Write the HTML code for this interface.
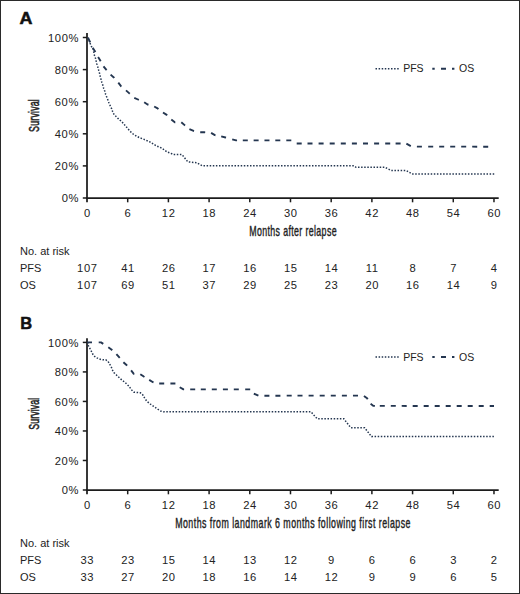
<!DOCTYPE html>
<html><head><meta charset="utf-8"><style>
html,body{margin:0;padding:0;background:#fff;}
svg{display:block;}
text{font-family:"Liberation Sans",sans-serif;fill:#222;}
.tk{font-size:11.2px;letter-spacing:0.6px;}
.lg{font-size:10.5px;}
.tb{font-size:11px;}
.tn{font-size:11.2px;letter-spacing:0.55px;}
.ti{font-size:14px;stroke:#222;stroke-width:0.4px;}
.sv{font-size:14px;stroke-width:0.55px;}
.pl{font-size:16px;font-weight:bold;fill:#111;stroke:#111;stroke-width:0.5px;}
</style></head><body>
<svg width="520" height="594" viewBox="0 0 520 594">
<rect x="0" y="0" width="520" height="594" fill="#fff"/>
<rect x="0.5" y="0.5" width="519" height="593" fill="none" stroke="#2a2a2a" stroke-width="1"/>
<line x1="87" y1="33" x2="87" y2="202.3" stroke="#1c1c1c" stroke-width="1.75"/>
<line x1="86" y1="198" x2="498.7" y2="198" stroke="#1c1c1c" stroke-width="1.75"/>
<line x1="82.8" y1="198.00" x2="87" y2="198.00" stroke="#1c1c1c" stroke-width="1.5"/>
<text x="79.00" y="202.20" class="tk" text-anchor="end">0%</text>
<line x1="82.8" y1="165.90" x2="87" y2="165.90" stroke="#1c1c1c" stroke-width="1.5"/>
<text x="79.00" y="170.10" class="tk" text-anchor="end">20%</text>
<line x1="82.8" y1="133.80" x2="87" y2="133.80" stroke="#1c1c1c" stroke-width="1.5"/>
<text x="79.00" y="138.00" class="tk" text-anchor="end">40%</text>
<line x1="82.8" y1="101.70" x2="87" y2="101.70" stroke="#1c1c1c" stroke-width="1.5"/>
<text x="79.00" y="105.90" class="tk" text-anchor="end">60%</text>
<line x1="82.8" y1="69.60" x2="87" y2="69.60" stroke="#1c1c1c" stroke-width="1.5"/>
<text x="79.00" y="73.80" class="tk" text-anchor="end">80%</text>
<line x1="82.8" y1="37.50" x2="87" y2="37.50" stroke="#1c1c1c" stroke-width="1.5"/>
<text x="79.00" y="41.70" class="tk" text-anchor="end">100%</text>
<text x="87.30" y="217" class="tk" text-anchor="middle">0</text>
<line x1="127.70" y1="198" x2="127.70" y2="202.3" stroke="#1c1c1c" stroke-width="1.5"/>
<text x="128.00" y="217" class="tk" text-anchor="middle">6</text>
<line x1="168.40" y1="198" x2="168.40" y2="202.3" stroke="#1c1c1c" stroke-width="1.5"/>
<text x="168.70" y="217" class="tk" text-anchor="middle">12</text>
<line x1="209.09" y1="198" x2="209.09" y2="202.3" stroke="#1c1c1c" stroke-width="1.5"/>
<text x="209.39" y="217" class="tk" text-anchor="middle">18</text>
<line x1="249.79" y1="198" x2="249.79" y2="202.3" stroke="#1c1c1c" stroke-width="1.5"/>
<text x="250.09" y="217" class="tk" text-anchor="middle">24</text>
<line x1="290.49" y1="198" x2="290.49" y2="202.3" stroke="#1c1c1c" stroke-width="1.5"/>
<text x="290.79" y="217" class="tk" text-anchor="middle">30</text>
<line x1="331.19" y1="198" x2="331.19" y2="202.3" stroke="#1c1c1c" stroke-width="1.5"/>
<text x="331.49" y="217" class="tk" text-anchor="middle">36</text>
<line x1="371.89" y1="198" x2="371.89" y2="202.3" stroke="#1c1c1c" stroke-width="1.5"/>
<text x="372.19" y="217" class="tk" text-anchor="middle">42</text>
<line x1="412.58" y1="198" x2="412.58" y2="202.3" stroke="#1c1c1c" stroke-width="1.5"/>
<text x="412.88" y="217" class="tk" text-anchor="middle">48</text>
<line x1="453.28" y1="198" x2="453.28" y2="202.3" stroke="#1c1c1c" stroke-width="1.5"/>
<text x="453.58" y="217" class="tk" text-anchor="middle">54</text>
<line x1="493.98" y1="198" x2="493.98" y2="202.3" stroke="#1c1c1c" stroke-width="1.5"/>
<text x="494.28" y="217" class="tk" text-anchor="middle">60</text>
<path d="M88.13,37.79 L90.21,42.34 M92.70,47.80 L95.10,51.50 L95.39,52.02 M98.10,56.90 L100.10,60.20 L100.66,61.20 M103.50,66.30 L106.20,69.70 L106.64,70.19 M110.60,74.60 L114.10,77.70 L114.31,77.95 M118.30,82.70 L121.00,86.20 L121.44,86.57 M126.00,90.40 L129.10,93.10 L129.75,93.70 M134.27,97.83 L138.00,99.50 L138.84,99.87 M144.20,102.20 L147.60,104.50 L148.46,104.76 M154.20,106.50 L157.60,108.40 L158.48,109.07 M163.00,112.50 L166.70,114.90 L167.12,115.31 M171.30,119.40 L174.80,122.20 L175.32,122.20 M181.30,122.20 L184.60,125.10 L185.06,125.49 M189.40,129.20 L193.60,130.90 L194.06,130.99 M200.20,132.20 L204.30,132.30 L205.20,132.38 M211.10,132.90 L214.90,135.10 L215.50,135.22 M221.20,136.40 L225.50,137.50 L226.04,137.65 M232.20,139.30 L236.10,140.40 L237.05,140.40 M242.80,140.40 L247.80,140.40 M253.63,140.40 L258.63,140.40 M264.47,140.40 L269.47,140.40 M275.30,140.40 L280.30,140.40 M286.30,140.40 L291.30,140.40 M296.70,143.50 L301.70,143.50 M307.50,143.50 L312.50,143.50 M318.60,143.50 L323.60,143.50 M329.70,143.50 L334.70,143.50 M340.80,143.50 L345.80,143.50 M351.90,143.50 L356.90,143.50 M363.00,143.50 L368.00,143.50 M374.10,143.50 L379.10,143.50 M385.20,143.50 L390.20,143.50 M395.60,143.50 L400.60,143.50 M406.39,143.71 L410.80,146.06 M416.90,146.61 L421.90,146.61 M428.20,146.62 L433.20,146.63 M439.20,146.63 L444.20,146.64 M450.20,146.65 L455.20,146.65 M461.20,146.66 L466.20,146.67 M472.20,146.67 L477.20,146.68 M483.20,146.69 L488.20,146.69" fill="none" stroke="#243650" stroke-width="1.9" stroke-linejoin="round"/>
<path d="M88.00,37.50 L88.70,39.40 L90.00,43.10 L91.40,46.40 L93.10,48.50 L93.70,51.80 L94.40,55.20 L95.40,57.90 L96.10,60.90 L96.80,63.90 L97.80,67.00 L98.70,70.40 L99.50,73.10 L100.20,76.20 L101.00,79.20 L101.80,82.30 L102.90,85.40 L103.70,88.50 L104.80,91.20 L105.60,94.20 L106.80,97.30 L108.00,100.30 L109.00,103.00 L110.40,106.10 L111.70,108.80 L112.70,111.80 L114.10,114.50 L116.40,116.80 L118.50,118.90 L120.80,120.90 L123.20,123.20 L125.20,125.60 L127.20,127.90 L129.20,130.30 L131.60,132.70 L133.80,134.60 L139.10,137.50 L145.40,139.90 L150.70,142.30 L156.00,145.70 L161.70,148.10 L167.00,151.90 L171.90,153.80 L173.60,154.60 L182.00,154.60 L187.80,161.80 L196.90,162.80 L202.20,165.80 L354.00,165.80 L356.00,167.30 L385.00,167.30 L391.00,170.40 L406.20,170.50 L412.00,173.90 L495.50,173.90" fill="none" stroke="#243650" stroke-width="1.5" stroke-dasharray="1.5 1.6" stroke-dashoffset="0.26"/>
<line x1="375.5" y1="68.7" x2="399.7" y2="68.7" stroke="#243650" stroke-width="1.5" stroke-dasharray="1.5 1.6"/>
<text x="403.2" y="72.20" class="lg">PFS</text>
<line x1="432.3" y1="68.7" x2="454.4" y2="68.7" stroke="#243650" stroke-width="1.9" stroke-dasharray="2.4 6.3 5 6 2.4"/>
<text x="459" y="72.20" class="lg">OS</text>
<text transform="translate(249.20000000000002,236) scale(0.63,1)" x="0" y="0" class="ti" textLength="138.7" lengthAdjust="spacing">Months after relapse</text>
<text transform="translate(39.2,131.9) rotate(-90) scale(0.63,1)" x="0" y="0" class="ti sv" textLength="51.9" lengthAdjust="spacing">Survival</text>
<text transform="translate(19.6,24) scale(1.12,1)" x="0" y="0" class="pl">A</text>
<text x="20" y="254.5" class="tb">No. at risk</text>
<text x="20" y="271.7" class="tb">PFS</text>
<text x="20" y="289" class="tb">OS</text>
<text x="87.28" y="271.7" class="tn" text-anchor="middle">107</text>
<text x="127.97" y="271.7" class="tn" text-anchor="middle">41</text>
<text x="168.67" y="271.7" class="tn" text-anchor="middle">26</text>
<text x="209.37" y="271.7" class="tn" text-anchor="middle">17</text>
<text x="250.07" y="271.7" class="tn" text-anchor="middle">16</text>
<text x="290.76" y="271.7" class="tn" text-anchor="middle">15</text>
<text x="331.46" y="271.7" class="tn" text-anchor="middle">14</text>
<text x="372.16" y="271.7" class="tn" text-anchor="middle">11</text>
<text x="412.86" y="271.7" class="tn" text-anchor="middle">8</text>
<text x="453.56" y="271.7" class="tn" text-anchor="middle">7</text>
<text x="494.25" y="271.7" class="tn" text-anchor="middle">4</text>
<text x="87.28" y="289" class="tn" text-anchor="middle">107</text>
<text x="127.97" y="289" class="tn" text-anchor="middle">69</text>
<text x="168.67" y="289" class="tn" text-anchor="middle">51</text>
<text x="209.37" y="289" class="tn" text-anchor="middle">37</text>
<text x="250.07" y="289" class="tn" text-anchor="middle">29</text>
<text x="290.76" y="289" class="tn" text-anchor="middle">25</text>
<text x="331.46" y="289" class="tn" text-anchor="middle">23</text>
<text x="372.16" y="289" class="tn" text-anchor="middle">20</text>
<text x="412.86" y="289" class="tn" text-anchor="middle">16</text>
<text x="453.56" y="289" class="tn" text-anchor="middle">14</text>
<text x="494.25" y="289" class="tn" text-anchor="middle">9</text>
<line x1="87" y1="338.2" x2="87" y2="494.3" stroke="#1c1c1c" stroke-width="1.75"/>
<line x1="86" y1="490" x2="498.7" y2="490" stroke="#1c1c1c" stroke-width="1.75"/>
<line x1="82.8" y1="490.00" x2="87" y2="490.00" stroke="#1c1c1c" stroke-width="1.5"/>
<text x="79.00" y="494.20" class="tk" text-anchor="end">0%</text>
<line x1="82.8" y1="460.48" x2="87" y2="460.48" stroke="#1c1c1c" stroke-width="1.5"/>
<text x="79.00" y="464.68" class="tk" text-anchor="end">20%</text>
<line x1="82.8" y1="430.96" x2="87" y2="430.96" stroke="#1c1c1c" stroke-width="1.5"/>
<text x="79.00" y="435.16" class="tk" text-anchor="end">40%</text>
<line x1="82.8" y1="401.44" x2="87" y2="401.44" stroke="#1c1c1c" stroke-width="1.5"/>
<text x="79.00" y="405.64" class="tk" text-anchor="end">60%</text>
<line x1="82.8" y1="371.92" x2="87" y2="371.92" stroke="#1c1c1c" stroke-width="1.5"/>
<text x="79.00" y="376.12" class="tk" text-anchor="end">80%</text>
<line x1="82.8" y1="342.40" x2="87" y2="342.40" stroke="#1c1c1c" stroke-width="1.5"/>
<text x="79.00" y="346.60" class="tk" text-anchor="end">100%</text>
<text x="87.30" y="508.7" class="tk" text-anchor="middle">0</text>
<line x1="127.70" y1="490" x2="127.70" y2="494.3" stroke="#1c1c1c" stroke-width="1.5"/>
<text x="128.00" y="508.7" class="tk" text-anchor="middle">6</text>
<line x1="168.40" y1="490" x2="168.40" y2="494.3" stroke="#1c1c1c" stroke-width="1.5"/>
<text x="168.70" y="508.7" class="tk" text-anchor="middle">12</text>
<line x1="209.09" y1="490" x2="209.09" y2="494.3" stroke="#1c1c1c" stroke-width="1.5"/>
<text x="209.39" y="508.7" class="tk" text-anchor="middle">18</text>
<line x1="249.79" y1="490" x2="249.79" y2="494.3" stroke="#1c1c1c" stroke-width="1.5"/>
<text x="250.09" y="508.7" class="tk" text-anchor="middle">24</text>
<line x1="290.49" y1="490" x2="290.49" y2="494.3" stroke="#1c1c1c" stroke-width="1.5"/>
<text x="290.79" y="508.7" class="tk" text-anchor="middle">30</text>
<line x1="331.19" y1="490" x2="331.19" y2="494.3" stroke="#1c1c1c" stroke-width="1.5"/>
<text x="331.49" y="508.7" class="tk" text-anchor="middle">36</text>
<line x1="371.89" y1="490" x2="371.89" y2="494.3" stroke="#1c1c1c" stroke-width="1.5"/>
<text x="372.19" y="508.7" class="tk" text-anchor="middle">42</text>
<line x1="412.58" y1="490" x2="412.58" y2="494.3" stroke="#1c1c1c" stroke-width="1.5"/>
<text x="412.88" y="508.7" class="tk" text-anchor="middle">48</text>
<line x1="453.28" y1="490" x2="453.28" y2="494.3" stroke="#1c1c1c" stroke-width="1.5"/>
<text x="453.58" y="508.7" class="tk" text-anchor="middle">54</text>
<line x1="493.98" y1="490" x2="493.98" y2="494.3" stroke="#1c1c1c" stroke-width="1.5"/>
<text x="494.28" y="508.7" class="tk" text-anchor="middle">60</text>
<path d="M87.00,342.40 L92.00,342.40 M98.70,342.40 L101.00,342.40 L102.50,343.40 L103.25,343.89 M108.30,347.20 L111.40,349.50 L112.23,350.28 M116.40,354.20 L119.10,357.20 L119.73,357.93 M123.40,362.20 L126.80,365.30 L127.06,365.60 M131.10,370.30 L133.80,373.80 L134.38,373.85 M140.30,374.20 L143.80,376.50 L144.49,376.93 M149.20,379.90 L153.00,382.20 L153.51,382.42 M159.20,383.50 L164.20,383.50 M170.40,383.50 L175.40,383.50 M179.71,387.20 L183.50,389.40 L184.12,389.40 M190.20,389.40 L195.20,389.40 M200.80,389.40 L205.80,389.40 M211.80,389.40 L216.80,389.40 M222.90,389.40 L227.90,389.40 M233.80,389.40 L238.80,389.40 M245.20,389.40 L250.20,389.40 M253.83,393.64 L258.40,395.66 M264.40,395.69 L269.40,395.69 M275.40,395.68 L280.40,395.68 M286.70,395.67 L291.70,395.67 M297.50,395.66 L302.50,395.66 M308.60,395.65 L313.60,395.65 M319.69,395.64 L324.69,395.64 M330.78,395.63 L335.78,395.63 M341.88,395.62 L346.88,395.62 M352.97,395.61 L357.97,395.61 M363.95,395.94 L367.10,398.30 L367.67,399.19 M370.60,403.80 L373.50,405.90 L374.92,405.90 M379.80,405.91 L384.80,405.91 M390.80,405.91 L395.80,405.92 M401.70,405.92 L406.70,405.93 M412.70,405.93 L417.70,405.94 M423.70,405.94 L428.70,405.95 M434.70,405.95 L439.70,405.95 M445.70,405.96 L450.70,405.96 M456.70,405.97 L461.70,405.97 M467.70,405.98 L472.70,405.98 M478.70,405.99 L483.70,405.99 M489.70,406.00 L494.00,406.00" fill="none" stroke="#243650" stroke-width="1.9" stroke-linejoin="round"/>
<path d="M88.00,342.40 L88.10,345.20 L89.60,347.90 L91.20,351.00 L92.70,354.10 L94.60,356.40 L96.90,357.90 L99.60,359.10 L102.70,359.80 L105.80,359.80 L108.10,361.40 L109.60,364.10 L111.20,366.80 L112.30,369.80 L113.80,372.50 L116.20,374.80 L120.20,378.60 L125.40,382.70 L129.40,386.70 L131.20,389.60 L134.00,392.20 L140.40,392.80 L142.70,394.80 L144.40,397.70 L146.70,401.10 L150.20,404.00 L153.60,406.30 L157.70,409.20 L160.60,411.00 L163.40,411.80 L311.00,411.80 L313.20,414.40 L315.30,416.70 L317.30,418.80 L343.80,418.80 L350.80,427.70 L364.60,427.70 L371.50,436.60 L494.00,436.60" fill="none" stroke="#243650" stroke-width="1.5" stroke-dasharray="1.5 1.6" stroke-dashoffset="0.31"/>
<line x1="375.5" y1="357.0" x2="399.7" y2="357.0" stroke="#243650" stroke-width="1.5" stroke-dasharray="1.5 1.6"/>
<text x="403.2" y="360.50" class="lg">PFS</text>
<line x1="432.3" y1="357.0" x2="454.4" y2="357.0" stroke="#243650" stroke-width="1.9" stroke-dasharray="2.4 6.3 5 6 2.4"/>
<text x="459" y="360.50" class="lg">OS</text>
<text transform="translate(175.20000000000002,527.7) scale(0.63,1)" x="0" y="0" class="ti" textLength="373.5" lengthAdjust="spacing">Months from landmark 6 months following first relapse</text>
<text transform="translate(39.2,429.8) rotate(-90) scale(0.63,1)" x="0" y="0" class="ti sv" textLength="50.8" lengthAdjust="spacing">Survival</text>
<text transform="translate(20.3,329) scale(1.03,1)" x="0" y="0" class="pl">B</text>
<text x="20" y="546.5" class="tb">No. at risk</text>
<text x="20" y="563.7" class="tb">PFS</text>
<text x="20" y="581" class="tb">OS</text>
<text x="87.28" y="563.7" class="tn" text-anchor="middle">33</text>
<text x="127.97" y="563.7" class="tn" text-anchor="middle">23</text>
<text x="168.67" y="563.7" class="tn" text-anchor="middle">15</text>
<text x="209.37" y="563.7" class="tn" text-anchor="middle">14</text>
<text x="250.07" y="563.7" class="tn" text-anchor="middle">13</text>
<text x="290.76" y="563.7" class="tn" text-anchor="middle">12</text>
<text x="331.46" y="563.7" class="tn" text-anchor="middle">9</text>
<text x="372.16" y="563.7" class="tn" text-anchor="middle">6</text>
<text x="412.86" y="563.7" class="tn" text-anchor="middle">6</text>
<text x="453.56" y="563.7" class="tn" text-anchor="middle">3</text>
<text x="494.25" y="563.7" class="tn" text-anchor="middle">2</text>
<text x="87.28" y="581" class="tn" text-anchor="middle">33</text>
<text x="127.97" y="581" class="tn" text-anchor="middle">27</text>
<text x="168.67" y="581" class="tn" text-anchor="middle">20</text>
<text x="209.37" y="581" class="tn" text-anchor="middle">18</text>
<text x="250.07" y="581" class="tn" text-anchor="middle">16</text>
<text x="290.76" y="581" class="tn" text-anchor="middle">14</text>
<text x="331.46" y="581" class="tn" text-anchor="middle">12</text>
<text x="372.16" y="581" class="tn" text-anchor="middle">9</text>
<text x="412.86" y="581" class="tn" text-anchor="middle">9</text>
<text x="453.56" y="581" class="tn" text-anchor="middle">6</text>
<text x="494.25" y="581" class="tn" text-anchor="middle">5</text>
</svg>
</body></html>
